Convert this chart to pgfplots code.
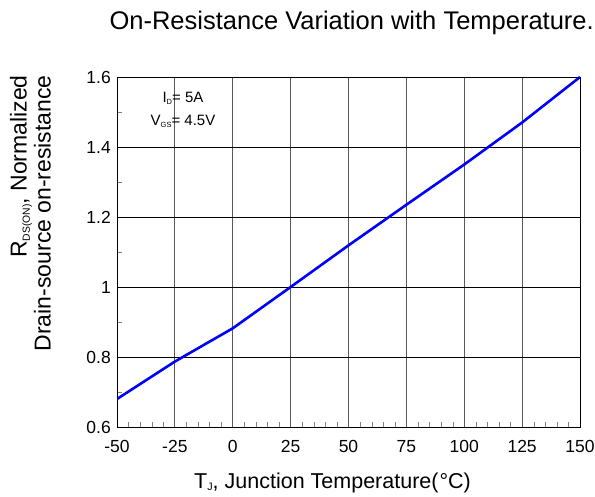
\documentclass[border=0pt]{standalone}
\usepackage{pgfplots}
\pgfplotsset{compat=1.18}
\usepackage{fontspec}
\setmainfont{Liberation Sans}
\newcommand\sub[2][0.45]{\raisebox{-0.25ex}{\scalebox{#1}{#2}}}
\begin{document}
\begin{tikzpicture}
\path[use as bounding box] (-117pt,-69pt) rectangle (478pt,427pt);
\node[anchor=base east, inner sep=0pt, font=\fontsize{25.5}{25.5}\selectfont] at (477pt,397pt) {On-Resistance Variation with Temperature.};
\node[anchor=east, rotate=90, align=right, inner sep=0pt, font=\fontsize{23}{24}\selectfont] at (-86.5pt,352pt) {R\sub{DS(ON)}, Normalized\\Drain-source on-resistance};
\node[anchor=base west, inner sep=0pt, font=\fontsize{21.5}{21.5}\selectfont] at (77pt,-61pt) {T\sub[0.5]{J}, Junction Temperature(\kern1pt\textdegree C)};
\begin{axis}[
  scale only axis, width=463pt, height=350pt,
  xmin=-50, xmax=150, ymin=0.6, ymax=1.6,
  xtick={-50,-25,...,150}, ytick={0.6,0.8,...,1.6},
  minor x tick num=4, minor y tick num=1,
  tick align=inside, xtick pos=bottom, ytick pos=left,
  major tick length=0pt, minor tick length=5pt,
  grid=major,
  x grid style={gray!70!black, line width=0.9pt},
  y grid style={black, line width=0.6pt},
  axis line style={black, line width=0.8pt},
  /pgf/number format/assume math mode=true,
  ticklabel style={font=\fontsize{17.5}{17.5}\selectfont},
  yticklabel style={/pgf/number format/fixed, anchor=east, inner sep=0pt, xshift=-6pt},
  xticklabel style={anchor=base, inner sep=0pt, yshift=-25pt},
]
\addplot[blue, line width=2.6pt] coordinates {
(-50,0.68) (-25,0.787) (0,0.882) (25,1.0) (50,1.119) (75,1.235) (100,1.35) (125,1.47) (150,1.6)
};
\node[align=center, anchor=north, font=\fontsize{15}{23}\selectfont, inner sep=0pt] at (rel axis cs:0.1425,0.957) {I\sub[0.5]{D}= 5A\\V\sub[0.5]{GS}= 4.5V};
\end{axis}
\end{tikzpicture}
\end{document}
